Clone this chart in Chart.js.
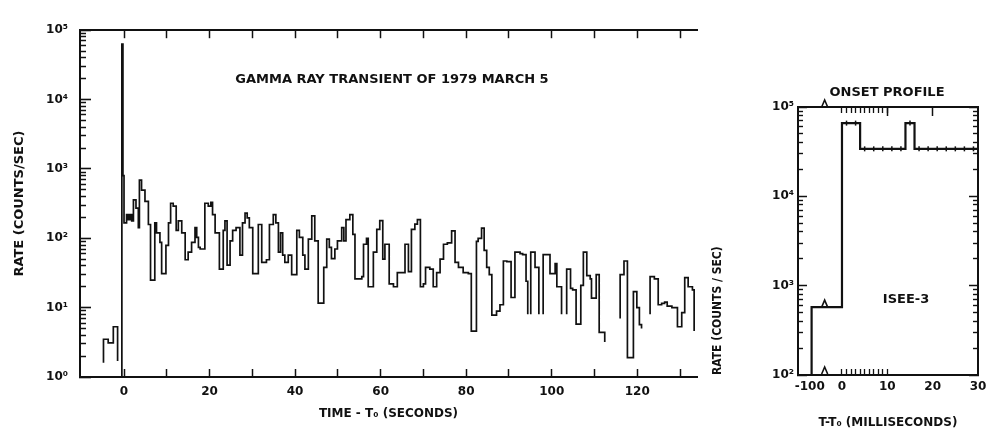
<!DOCTYPE html>
<html><head><meta charset="utf-8">
<script src="https://cdn.jsdelivr.net/npm/chart.js@4"></script>
<style>
html,body{margin:0;padding:0;background:#fff;}
#wrap{position:relative;width:995px;height:434px;overflow:hidden;background:#fff;}
#c1{position:absolute;left:0;top:0;}
#c2{position:absolute;left:700px;top:0;}
</style></head><body>
<div id="wrap"><canvas id="c1" width="700" height="434"></canvas><canvas id="c2" width="295" height="434"></canvas></div>
<script>
// ---------- DATA: main burst (time in s, rate in counts/s; null = no data) ----------
const burstTimes = [
 -4.8,-4.8,-3.7,-2.5,-1.5,-1.2,
 -0.5,-0.5,-0.25,0,0.6,1.0,1.4,1.8,2.2,2.8,3.35,3.6,4.1,4.9,5.7,6.2,7.2,7.6,8.4,8.8,9.8,
 10.4,10.9,11.5,12.2,12.7,13.5,14.3,15.0,15.8,16.6,17.0,17.4,17.8,18.9,19.7,20.3,20.7,21.3,22.3,
 23.2,23.6,24.1,24.8,25.4,26.2,27.1,27.7,28.3,28.8,29.3,30.1,31.4,32.2,33.3,34.0,34.9,35.5,36.1,
 36.6,37.1,37.6,38.4,39.2,40.4,41.0,41.8,42.3,43.1,43.9,44.6,45.4,46.7,47.4,48.0,48.5,49.3,49.9,
 50.9,51.4,51.9,52.8,53.5,54.0,55.6,56.0,56.7,57.1,58.3,59.1,59.8,60.5,61.0,62.0,63.0,63.9,65.7,
 66.5,67.2,68.0,68.6,69.3,70.0,70.5,71.5,72.3,73.1,73.9,74.7,75.6,76.6,77.4,78.2,79.3,80.5,81.2,
 82.4,82.8,83.6,84.2,84.8,85.4,86.0,87.1,87.9,88.7,89.5,90.5,91.4,92.6,93.2,94.0,94.4,94.7,
 95.1,95.1,96.1,97.0,97.5,
 98.0,98.0,99.6,100.8,101.2,102.3,102.9,
 103.5,103.5,104.4,104.9,105.7,106.8,107.4,108.2,109.0,109.3,110.4,111.1,112.4,113.0,
 116.0,116.0,116.9,117.7,119.1,119.9,120.5,121.0,121.5,
 123.0,123.0,124.0,124.9,125.7,126.4,127.0,128.1,129.4,130.4,131.1,131.9,132.9,133.3
];
const burstRates = [
 1.6,3.5,3.1,5.3,1.7,null,
 1.0,63000,800,167,219,185,219,178,357,273,142,690,493,340,158,25,167,120,87,31,79,
 167,320,290,130,178,120,49,63,87,142,103,74,70,320,290,330,219,120,36,
 130,178,41,92,130,142,57,167,230,197,142,31,158,45,49,158,219,167,63,
 120,57,45,57,30,130,103,57,36,97,210,92,11.6,38,97,74,51,70,92,
 142,92,186,220,114,26,28,82,100,20,63,134,180,50,82,22,20,32,82,
 33,134,160,186,20,22,38,36,20,32,50,82,86,128,45,38,32,31,4.6,
 90,100,140,67,38,30,7.8,8.9,11,47,46,14,63,60,58,24,8,null,
 8,63,38,8,null,
 8,58,31,43,20,8,null,
 8,36,19,18,5.8,21,63,29,26,13.7,30,4.4,3.2,null,
 7,30,47,1.9,17,10,5.7,5.0,null,
 8,28,26,11,11.5,12,10.5,10,5.3,8.5,27,20,18,4.6
];
const xTickValues = [0,10,20,30,40,50,60,70,80,90,100,110,120,130];
const xTickLabels = ['0','','20','','40','','60','','80','','100','','120',''];
const yDecades = [1,10,100,1000,10000,100000];
const yDecadeLabels = ['10\u2070','10\u00B9','10\u00B2','10\u00B3','10\u2074','10\u2075'];

// ---------- DATA: onset profile (time in ms, rate in counts/s) ----------
const onsetTimes = [-6.7,-6.7,0,1,2,3,4,5,6,7,8,9,10,11,12,13,14,15,16,17,18,19,20,21,22,23,24,25,26,27,28,29,30];
const onsetRates = [100,575,66000,66000,66000,66000,34000,34000,34000,34000,34000,34000,34000,34000,34000,34000,
  66000,66000,34000,34000,34000,34000,34000,34000,34000,34000,34000,34000,34000,34000,34000,34000,34000];
const onsetTickValues = [-7.1,0,10,20,30];
const onsetTickLabels = ['-100','0','10','20','30'];
const onsetMinorTop = [0,1,2,3,4,5,6,7,8,9,10];
const onsetMajorTop = [10,20];
const onsetDecades = [100,1000,10000,100000];
const onsetDecadeLabels = ['10\u00B2','10\u00B3','10\u2074','10\u2075'];
const onsetBreakAt = -3.6;

// ---------- helpers ----------
const INK = '#111';
const minorLog = (lo, hi) => { const out = []; for (let d = lo; d < hi; d *= 10) for (let k = 2; k <= 9; k++) out.push(d * k); return out; };
const setTicks = vals => s => { s.ticks = vals.map(v => ({value: v})); };
const tickFont = {family: "'DejaVu Sans', sans-serif", weight: 'bold', size: 12};
const titleFont = {family: "'DejaVu Sans', sans-serif", weight: 'bold', size: 12};

const textPlugin = {
  id: 'texts',
  afterDraw(chart, args, opts) {
    const ctx = chart.ctx;
    ctx.save();
    ctx.fillStyle = INK;
    (opts.items || []).forEach(t => {
      ctx.font = t.font;
      ctx.textAlign = 'center';
      ctx.textBaseline = 'middle';
      ctx.fillText(t.text, t.x, t.y);
    });
    ctx.restore();
  }
};

const breakPlugin = {
  id: 'axisBreak',
  afterDraw(chart) {
    const {ctx, chartArea, scales} = chart;
    const x = scales.x.getPixelForValue(onsetBreakAt);
    const yLine = scales.y.getPixelForValue(onsetRates[1]);
    ctx.save();
    ctx.strokeStyle = INK; ctx.lineWidth = 1.6;
    [chartArea.top, chartArea.bottom - 1, yLine].forEach(y => {
      ctx.beginPath(); ctx.moveTo(x - 4, y); ctx.lineTo(x - 1, y - 7); ctx.lineTo(x + 2, y); ctx.stroke();
    });
    ctx.restore();
  }
};

const inward = (len, w) => ({drawOnChartArea: false, drawTicks: true, tickLength: -len, tickWidth: w, tickColor: INK});
const noTickLabels = {display: false};

// ---------- main chart ----------
new Chart(document.getElementById('c1'), {
  type: 'line',
  data: {datasets: [{
    data: burstTimes.map((t, i) => ({x: t, y: burstRates[i]})),
    stepped: true, borderColor: INK, borderWidth: 1.7, pointRadius: 0, spanGaps: false, fill: false,
    xAxisID: 'x', yAxisID: 'y'
  }]},
  plugins: [textPlugin],
  options: {
    responsive: false, animation: false, devicePixelRatio: 1, events: [],
    layout: {padding: {right: 3, left: 0, top: 0, bottom: 0}},
    plugins: {
      legend: {display: false}, tooltip: {enabled: false},
      texts: {items: [{text: 'GAMMA RAY TRANSIENT OF 1979 MARCH 5', x: 392, y: 80, font: "bold 13px 'DejaVu Sans'"}]}
    },
    scales: {
      x: {
        type: 'linear', position: 'bottom', weight: 1, min: -10.29, max: 133.97,
        afterBuildTicks: setTicks(xTickValues), afterFit: s => { s.height = 57; },
        ticks: {autoSkip: false, maxRotation: 0, padding: 16, color: INK, font: tickFont,
                callback: (v, i) => xTickLabels[i]},
        grid: inward(8, 1.5), border: {display: true, width: 2, color: INK},
        title: {display: true, text: 'TIME - T\u2080 (SECONDS)', color: INK, font: titleFont, padding: {top: 0, bottom: 13}}
      },
      xTop: {
        type: 'linear', position: 'top', weight: 1, min: -10.29, max: 133.97,
        afterBuildTicks: setTicks(xTickValues), afterFit: s => { s.height = 24; },
        ticks: noTickLabels, grid: inward(8, 1.5), border: {display: true, width: 2, color: INK}
      },
      y: {
        type: 'logarithmic', position: 'left', weight: 1, min: 1, max: 100000,
        afterBuildTicks: setTicks(yDecades), afterFit: s => { s.width = 80; },
        ticks: {autoSkip: false, padding: 23, color: INK, font: tickFont, callback: (v, i) => yDecadeLabels[i]},
        grid: inward(11, 1.6), border: {display: true, width: 2, color: INK},
        title: {display: true, text: 'RATE (COUNTS/SEC)', color: INK, font: {family: "'DejaVu Sans'", weight: 'bold', size: 13}, padding: {top: 12, bottom: 0}}
      },
      yMinor: {
        type: 'logarithmic', position: 'left', weight: 0, min: 1, max: 100000,
        afterBuildTicks: setTicks(minorLog(1, 100000)), afterFit: s => { s.width = 0; },
        ticks: noTickLabels, grid: inward(6, 1.5), border: {display: false}
      }
    }
  }
});

// ---------- onset profile chart ----------
const condFont = {family: "'DejaVu Sans Condensed', 'DejaVu Sans', sans-serif", weight: 'bold', size: 12};
new Chart(document.getElementById('c2'), {
  type: 'line',
  data: {datasets: [{
    data: onsetTimes.map((t, i) => ({x: t, y: onsetRates[i]})),
    stepped: true, borderColor: INK, borderWidth: 2.2, fill: false,
    pointStyle: 'line', rotation: 90, pointBorderColor: INK, pointBorderWidth: 1.5,
    pointRadius: c => { const t = onsetTimes[c.dataIndex]; return (t > 0 && t < 30 && t % 2 === 1) ? 2.5 : 0; },
    xAxisID: 'x', yAxisID: 'y'
  }]},
  plugins: [textPlugin, breakPlugin],
  options: {
    responsive: false, animation: false, devicePixelRatio: 1, events: [],
    layout: {padding: {right: 17, left: 0, top: 0, bottom: 0}},
    plugins: {
      legend: {display: false}, tooltip: {enabled: false},
      texts: {items: [
        {text: 'ONSET PROFILE', x: 187, y: 93, font: "bold 13px 'DejaVu Sans'"},
        {text: 'ISEE-3', x: 206, y: 300, font: "bold 13px 'DejaVu Sans'"}
      ]}
    },
    scales: {
      x: {
        type: 'linear', position: 'bottom', weight: 1, min: -9.7, max: 30,
        afterBuildTicks: setTicks(onsetTickValues), afterFit: s => { s.height = 59; },
        ticks: {autoSkip: false, maxRotation: 0, padding: 5, color: INK, font: tickFont, callback: (v, i) => onsetTickLabels[i]},
        grid: {display: false, drawTicks: false}, border: {display: true, width: 2, color: INK},
        title: {display: true, text: 'T-T\u2080 (MILLISECONDS)', color: INK, font: titleFont, padding: {top: 0, bottom: 4}}
      },
      xBotMinor: {
        type: 'linear', position: 'bottom', weight: 0, min: -9.7, max: 30,
        afterBuildTicks: setTicks(onsetMinorTop), afterFit: s => { s.height = 0; },
        ticks: noTickLabels, grid: inward(6, 1.3), border: {display: false}
      },
      xTop: {
        type: 'linear', position: 'top', weight: 1, min: -9.7, max: 30,
        afterBuildTicks: setTicks(onsetMajorTop), afterFit: s => { s.height = 107; },
        ticks: noTickLabels, grid: inward(9, 1.5), border: {display: true, width: 2, color: INK}
      },
      xTopMinor: {
        type: 'linear', position: 'top', weight: 0, min: -9.7, max: 30,
        afterBuildTicks: setTicks(onsetMinorTop), afterFit: s => { s.height = 0; },
        ticks: noTickLabels, grid: inward(6, 1.3), border: {display: false}
      },
      y: {
        type: 'logarithmic', position: 'left', weight: 1, min: 100, max: 100000,
        afterBuildTicks: setTicks(onsetDecades), afterFit: s => { s.width = 98; },
        ticks: {autoSkip: false, padding: 13, color: INK, font: tickFont, callback: (v, i) => onsetDecadeLabels[i]},
        grid: inward(9, 1.5), border: {display: true, width: 2, color: INK},
        title: {display: true, text: 'RATE (COUNTS / SEC)', align: 'start', color: INK, font: condFont, padding: {top: 11, bottom: 0}}
      },
      yMinor: {
        type: 'logarithmic', position: 'left', weight: 0, min: 100, max: 100000,
        afterBuildTicks: setTicks(minorLog(100, 100000)), afterFit: s => { s.width = 0; },
        ticks: noTickLabels, grid: inward(5, 1.4), border: {display: false}
      },
      yRight: {
        type: 'logarithmic', position: 'right', weight: 1, min: 100, max: 100000,
        afterBuildTicks: setTicks(onsetDecades), afterFit: s => { s.width = 0; },
        ticks: noTickLabels, grid: inward(9, 1.5), border: {display: true, width: 2, color: INK}
      },
      yRightMinor: {
        type: 'logarithmic', position: 'right', weight: 0, min: 100, max: 100000,
        afterBuildTicks: setTicks(minorLog(100, 100000)), afterFit: s => { s.width = 0; },
        ticks: noTickLabels, grid: inward(5, 1.4), border: {display: false}
      }
    }
  }
});
</script>
</body></html>
